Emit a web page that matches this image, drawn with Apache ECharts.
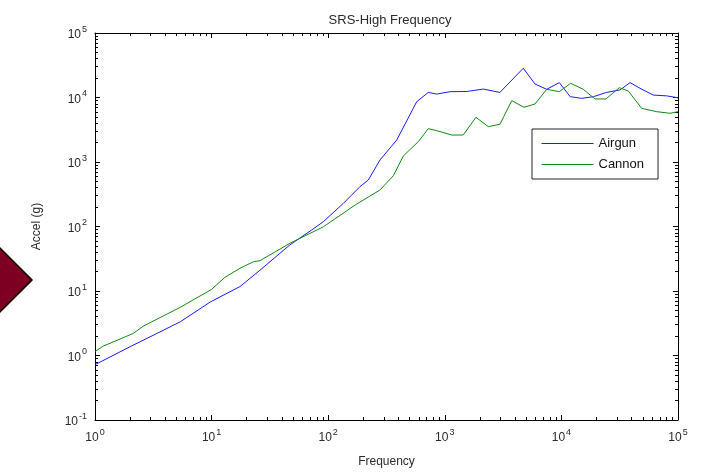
<!DOCTYPE html>
<html>
<head>
<meta charset="utf-8">
<script src="https://cdn.jsdelivr.net/npm/echarts@6/dist/echarts.min.js"></script>
<style>html,body{margin:0;padding:0;background:#fff}#c{width:701px;height:475px}</style>
</head>
<body>
<div id="c"></div>
<script>
var titleText = 'SRS-High Frequency';
var xName = 'Frequency';
var yName = 'Accel (g)';
var seriesNames = ['Airgun', 'Cannon'];

var airgunFreq  = [1.0, 2.0, 3.4, 5.4, 9.8, 17.5, 26, 47, 72, 91, 135, 187, 221, 278, 387, 574, 722, 852, 1110, 1540, 2140, 2970, 4710, 5940, 7480, 9600, 11900, 14900, 18800, 24400, 31800, 38800, 47200, 61400, 80000, 100000];
var airgunAccel = [0.72, 1.37, 2.2, 3.34, 6.8, 11.7, 21, 52, 88, 119, 229, 414, 526, 1075, 2190, 8600, 12000, 11300, 12300, 12400, 13500, 12000, 28400, 16200, 13400, 17000, 10300, 9700, 10300, 12000, 13100, 17000, 13900, 10900, 10600, 9900];

var cannonFreq  = [1.0, 1.18, 2.13, 2.6, 5.4, 10, 13, 17.5, 22.8, 26, 47, 91, 170, 278, 362, 441, 593, 722, 852, 1150, 1440, 1850, 2360, 2970, 3750, 4780, 5940, 7480, 9600, 12000, 15400, 19400, 24100, 31400, 37500, 48800, 65600, 85400, 100000];
var cannonAccel = [1.15, 1.4, 2.2, 2.86, 5.6, 10.6, 16.3, 22.5, 28.4, 29.5, 55, 99, 215, 368, 613, 1240, 2070, 3290, 3060, 2620, 2620, 4930, 3530, 3840, 8930, 7050, 7930, 13400, 12300, 16600, 13400, 9490, 9490, 14200, 12600, 6790, 6030, 5690, 6030];

function pairs(xs, ys) { var out = []; for (var i = 0; i < xs.length; i++) out.push([xs[i], ys[i]]); return out; }
function minorExp(d0, d1) { var out = []; for (var d = d0; d < d1; d++) for (var k = 2; k <= 9; k++) out.push(d + Math.log10(k)); return out; }

var FONT = 'Liberation Sans, Arial, sans-serif';
var TXT = '#2a2a2a';
var supLabel = {
  show: true, color: TXT, fontFamily: FONT, fontSize: 12,
  formatter: function (v) { return '{b|10}{s|' + Math.round(Math.log10(v)) + '}'; },
  rich: {
    b: { fontSize: 12, fontFamily: FONT, color: TXT, verticalAlign: 'bottom' },
    s: { fontSize: 9, fontFamily: FONT, color: TXT, verticalAlign: 'bottom', padding: [0, 0, 7, 1] }
  }
};
var lineStyle = { color: '#000', width: 1 };

function mainAxis(pos, min, max, withLabel, name, gap) {
  var a = {
    type: 'log', logBase: 10, min: min, max: max, position: pos,
    axisLine: { show: true, onZero: false, lineStyle: lineStyle },
    axisTick: { show: true, inside: true, length: 5, lineStyle: lineStyle },
    axisLabel: withLabel ? Object.assign({ margin: 8 }, supLabel) : { show: false },
    splitLine: { show: false }, minorTick: { show: false }
  };
  if (name) {
    a.name = name; a.nameLocation = 'middle'; a.nameGap = gap;
    a.nameTextStyle = { fontFamily: FONT, fontSize: 12, color: TXT };
  }
  return a;
}
function minorAxis(pos, e0, e1) {
  return {
    type: 'value', min: e0, max: e1, position: pos,
    axisLine: { show: false, onZero: false },
    axisTick: { show: true, inside: true, length: 3, lineStyle: lineStyle, customValues: minorExp(e0, e1) },
    axisLabel: { show: false }, splitLine: { show: false }
  };
}

var chart = echarts.init(document.getElementById('c'), null, { renderer: 'canvas' });
chart.setOption({
  backgroundColor: '#fff',
  animation: false,
  title: {
    text: titleText, left: 385, textAlign: 'center', top: 9,
    textStyle: { fontFamily: FONT, fontSize: 13, fontWeight: 'normal', color: TXT }
  },
  grid: { left: 95, right: 23, top: 33, bottom: 55, containLabel: false },
  legend: {
    data: seriesNames, orient: 'vertical', left: 532, top: 129,
    itemWidth: 52, itemHeight: 12, itemGap: 8,
    itemStyle: { opacity: 0 },
    lineStyle: { width: 1 },
    padding: [8, 14, 8, 9],
    borderColor: '#222', borderWidth: 1, backgroundColor: '#fff',
    textStyle: { fontFamily: FONT, fontSize: 13, color: '#111' }
  },
  xAxis: [
    mainAxis('bottom', 1, 100000, true, xName, 36),
    minorAxis('bottom', 0, 5),
    mainAxis('top', 1, 100000, false),
    minorAxis('top', 0, 5)
  ],
  yAxis: [
    mainAxis('left', 0.1, 100000, true, yName, 52),
    minorAxis('left', -1, 5),
    mainAxis('right', 0.1, 100000, false),
    minorAxis('right', -1, 5)
  ],
  graphic: [{
    type: 'polygon', silent: true, z: 100,
    shape: { points: [[-18, 230], [32, 280], [-18, 330], [-68, 280]] },
    style: { fill: '#7d0022', stroke: '#000', lineWidth: 1.5 }
  }],
  series: [
    { name: seriesNames[0], type: 'line', xAxisIndex: 0, yAxisIndex: 0, data: pairs(airgunFreq, airgunAccel),
      symbol: 'none', lineStyle: { color: '#1a1aff', width: 1 }, itemStyle: { color: '#1a1aff' } },
    { name: seriesNames[1], type: 'line', xAxisIndex: 0, yAxisIndex: 0, data: pairs(cannonFreq, cannonAccel),
      symbol: 'none', lineStyle: { color: '#138a13', width: 1 }, itemStyle: { color: '#138a13' } }
  ]
});
</script>
</body>
</html>
